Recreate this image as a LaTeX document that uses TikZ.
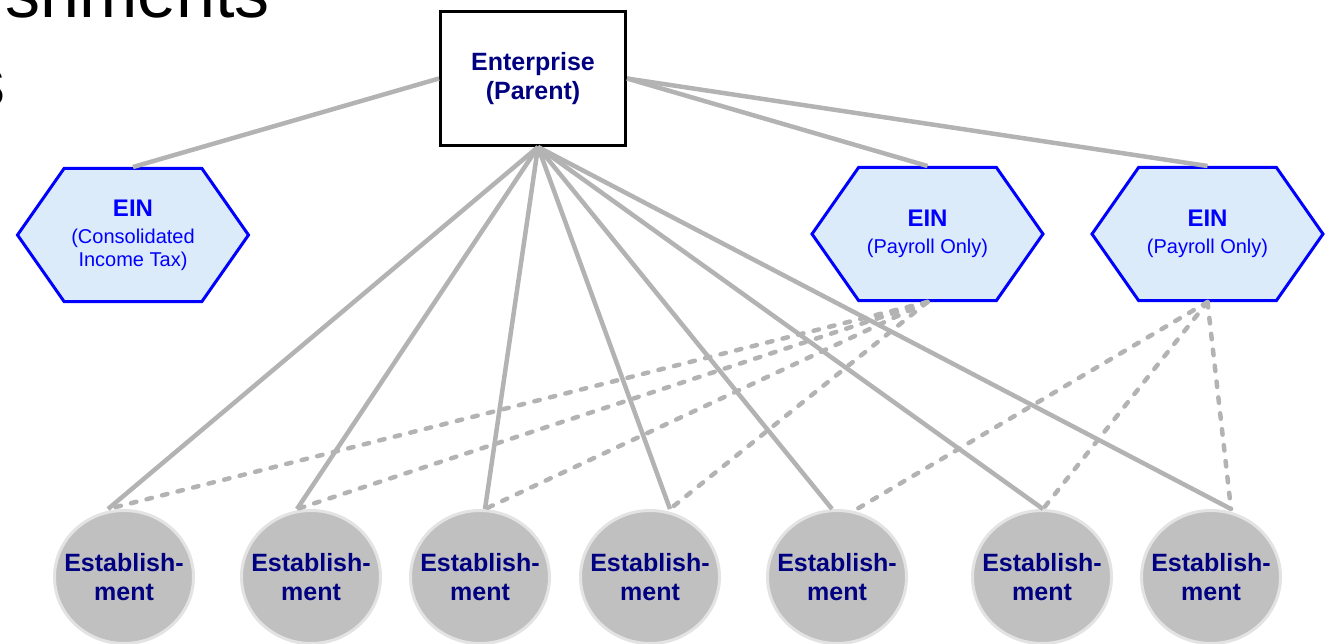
\documentclass[tikz,border=0pt]{standalone}
\usepackage{fontspec}
\setmainfont{Liberation Sans}
\usetikzlibrary{shapes.geometric,shapes.symbols}
\definecolor{navy}{HTML}{000080}
\definecolor{einblue}{HTML}{0000FF}
\definecolor{einfill}{HTML}{DCEBFA}
\definecolor{linkgray}{HTML}{B3B3B3}
\definecolor{estfill}{HTML}{C0C0C0}
\definecolor{estrim}{HTML}{E3E3E3}

\begin{document}
\begin{tikzpicture}[x=1pt,y=-1pt,
	enterprise/.style={draw=black,line width=3pt,fill=white,minimum width=185pt,minimum height=134pt,inner sep=0pt,align=center,text=navy,font=\fontsize{25}{29}\selectfont\bfseries},
	ein/.style={signal,signal to=east and west,signal pointer angle=110,draw=einblue,fill=einfill,line width=3pt,minimum width=231pt,minimum height=133pt,inner sep=0pt,align=center,text=einblue,font=\fontsize{20}{23}\selectfont},
	est/.style={ellipse,draw=estrim,fill=estfill,line width=3pt,minimum width=139pt,minimum height=133pt,inner sep=-15pt,align=center,text=navy,font=\fontsize{25}{29}\selectfont\bfseries},
	link/.style={draw=linkgray,line width=4.5pt},
	payroll/.style={link,dash pattern=on 5.5pt off 10.5pt,line cap=round}]
					\clip (0,0) rectangle (1330,644);
					
					%TITLE
					\node[anchor=base east,inner sep=0pt,font=\fontsize{70}{84}\selectfont] (title1) at (270,18) {shments};
					\node[anchor=base east,inner sep=0pt,font=\fontsize{70}{84}\selectfont] (title2) at (6,107) {s};
					
					%ENTERPRISE AND EINS
					\node[enterprise] (ent) at (533,78.5) {Enterprise\\(Parent)};
					\node[ein] (tax) at (133,235) {{\fontsize{24}{27}\selectfont\bfseries EIN}\\[4pt](Consolidated\\Income Tax)};
					\node[ein] (pay1) at (927.5,234) {{\fontsize{24}{27}\selectfont\bfseries EIN}\\[4pt](Payroll Only)};
					\node[ein] (pay2) at (1207.5,234) {{\fontsize{24}{27}\selectfont\bfseries EIN}\\[4pt](Payroll Only)};
					
					%ESTABLISHMENTS
					\foreach \n/\x in {1/124,2/311,3/480,4/650,5/837,6/1042,7/1211}
						\node[est] (est\n) at (\x,577) {Establish-\\ment};
					\foreach \n/\dx in {1/-16,2/-14,3/5,4/20,5/-5,6/1,7/20}
						\coordinate (top\n) at ([xshift=\dx pt]est\n.north);
					
					%LINKS
					\draw[link] (ent.west) -- (tax.north);
					\draw[link] (ent.east) -- (pay1.north);
					\draw[link] (ent.east) -- (pay2.north);
					\foreach \n in {1,...,7}
						\draw[link] ([xshift=5pt]ent.south) -- (top\n);
					\foreach \n in {1,...,4}
						\draw[payroll] (pay1.south) -- (top\n);
					\draw[payroll] (pay2.south) -- ([xshift=20pt]est5.north);
					\foreach \n in {6,7}
						\draw[payroll] (pay2.south) -- (top\n);
					
\end{tikzpicture}
\end{document}
